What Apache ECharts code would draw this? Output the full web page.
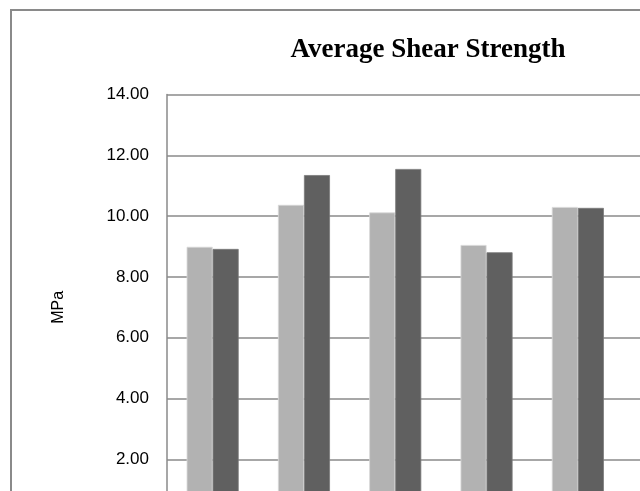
<!DOCTYPE html>
<html>
<head>
<meta charset="utf-8">
<script src="https://cdn.jsdelivr.net/npm/echarts@6/dist/echarts.min.js"></script>
<style>html,body{margin:0;padding:0;background:#fff;}#c{width:640px;height:491px;}</style>
</head>
<body>
<div id="c"></div>
<script>
const categories = ['1', '2', '3', '4', '5', '6'];
const seriesA = [8.99, 10.37, 10.12, 9.05, 10.30, null];
const seriesB = [8.92, 11.35, 11.55, 8.81, 10.27, null];
const yTicks = [0, 2, 4, 6, 8, 10, 12, 14];

const chart = echarts.init(document.getElementById('c'), null, {renderer: 'canvas'});
chart.setOption({
  animation: false,
  backgroundColor: '#fff',
  title: {
    text: 'Average Shear Strength',
    left: 423, top: 32, textAlign: 'center',
    textStyle: {fontFamily: 'Liberation Serif', fontWeight: 'bold', fontSize: 27, color: '#000'}
  },
  graphic: [{
    type: 'rect', shape: {x: 11, y: 10, width: 720, height: 620},
    style: {fill: 'none', stroke: '#8a8a8a', lineWidth: 2}, silent: true, z: -1
  }],
  grid: {left: 167, top: 94.5, width: 547.8, height: 425.6, containLabel: false, outerBoundsMode: 'none'},
  xAxis: {
    type: 'category', data: categories,
    axisLine: {lineStyle: {color: '#8a8a8a', width: 1.5}},
    axisTick: {show: false}, axisLabel: {show: false}
  },
  yAxis: {
    type: 'value', min: yTicks[0], max: yTicks[yTicks.length - 1], interval: 2,
    name: 'MPa', nameLocation: 'middle', nameGap: 100,
    nameTextStyle: {fontFamily: 'Liberation Sans', fontSize: 16, color: '#000'},
    axisLine: {show: true, lineStyle: {color: '#8a8a8a', width: 1.5}},
    axisTick: {show: false},
    splitLine: {lineStyle: {color: '#8a8a8a', width: 1.5}},
    axisLabel: {
      margin: 18, fontFamily: 'Liberation Sans', fontSize: 17, color: '#000',
      formatter: v => v.toFixed(2)
    }
  },
  series: [
    {name: 'Series 1', type: 'bar', data: seriesA, barWidth: '28.5%', barGap: '0%',
     itemStyle: {color: '#b2b2b2', borderColor: '#d8d8d8', borderWidth: 0.8}},
    {name: 'Series 2', type: 'bar', data: seriesB, barWidth: '28.5%', barGap: '0%',
     itemStyle: {color: '#606060', borderColor: '#7a7a7a', borderWidth: 0.8}}
  ]
});
</script>
</body>
</html>
